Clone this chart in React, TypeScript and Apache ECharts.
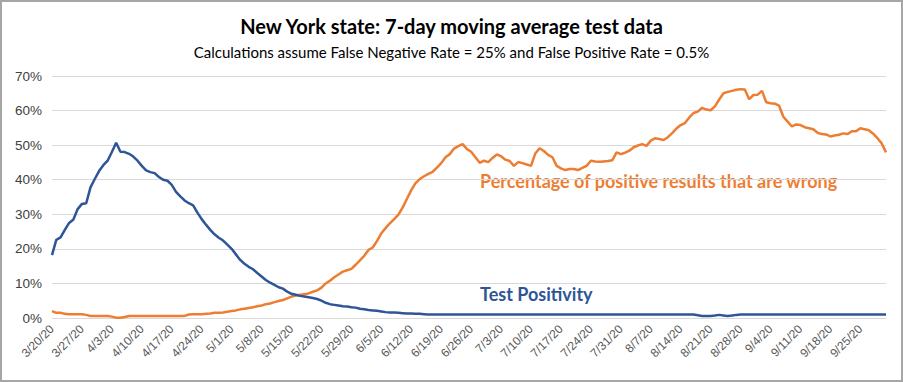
import React, { useEffect, useRef } from "react";
import * as echarts from "echarts";

const START_DATE = "2020-03-20";
const DAY_COUNT = 196;

const testPositivity = [
  18.2, 22.6, 23.3, 25.5, 27.5, 28.5, 31.5, 33.0, 33.2, 37.8,
  40.2, 42.5, 44.2, 45.5, 48.0, 50.7, 48.1, 48.0, 47.5, 46.7,
  45.5, 44.0, 42.7, 42.2, 41.9, 40.8, 40.0, 39.7, 38.5, 36.5,
  35.2, 34.0, 33.2, 32.6, 30.5, 28.6, 27.0, 25.5, 24.2, 23.2,
  22.4, 21.2, 20.0, 18.4, 16.8, 15.7, 14.8, 14.1, 13.0, 12.0,
  11.0, 10.2, 9.6, 8.9, 8.5, 7.6, 7.0, 6.7, 6.4, 6.2,
  6.0, 5.8, 5.5, 5.0, 4.4, 4.0, 3.8, 3.6, 3.4, 3.3,
  3.1, 3.0, 2.7, 2.5, 2.3, 2.2, 2.1, 1.9, 1.7, 1.6,
  1.6, 1.5, 1.4, 1.3, 1.3, 1.2, 1.2, 1.1, 1.0, 1.0,
  1.0, 1.0, 1.0, 1.0, 1.0, 1.0, 1.0, 1.0, 1.0, 1.0,
  1.0, 1.0, 1.0, 1.0, 1.0, 1.0, 1.0, 1.0, 1.0, 1.0,
  1.0, 1.0, 1.0, 1.0, 1.0, 1.0, 1.0, 1.0, 1.0, 1.0,
  1.0, 1.0, 1.0, 1.0, 1.0, 1.0, 1.0, 1.0, 1.0, 1.0,
  1.0, 1.0, 1.0, 1.0, 1.0, 1.0, 1.0, 1.0, 1.0, 1.0,
  1.0, 1.0, 1.0, 1.0, 1.0, 1.0, 1.0, 1.0, 1.0, 1.0,
  1.0, 0.8, 0.6, 0.6, 0.6, 0.7, 0.9, 0.7, 0.6, 0.7,
  0.9, 1.0, 1.0, 1.0, 1.0, 1.0, 1.0, 1.0, 1.0, 1.0,
  1.0, 1.0, 1.0, 1.0, 1.0, 1.0, 1.0, 1.0, 1.0, 1.0,
  1.0, 1.0, 1.0, 1.0, 1.0, 1.0, 1.0, 1.0, 1.0, 1.0,
  1.0, 1.0, 1.0, 1.0, 1.0, 1.0,
];

const wrongPositives = [
  2.0, 1.5, 1.5, 1.2, 1.1, 1.1, 1.1, 1.1, 0.9, 0.6,
  0.6, 0.6, 0.6, 0.6, 0.4, 0.1, 0.1, 0.3, 0.6, 0.6,
  0.6, 0.6, 0.6, 0.6, 0.6, 0.6, 0.6, 0.6, 0.6, 0.6,
  0.6, 0.6, 1.0, 1.1, 1.1, 1.1, 1.2, 1.3, 1.5, 1.5,
  1.6, 1.8, 2.0, 2.2, 2.5, 2.7, 2.9, 3.1, 3.4, 3.6,
  4.0, 4.2, 4.6, 4.9, 5.2, 5.7, 6.2, 6.5, 6.7, 6.9,
  7.1, 7.6, 8.0, 8.8, 10.0, 10.8, 11.8, 12.6, 13.4, 13.8,
  14.2, 15.4, 16.7, 18.0, 19.7, 20.4, 22.3, 24.5, 26.0, 27.4,
  28.6, 29.9, 32.0, 34.5, 37.0, 39.0, 40.2, 41.0, 41.7, 42.3,
  43.5, 44.8, 46.5, 47.4, 49.0, 49.7, 50.3, 48.9, 48.1, 46.5,
  44.9, 45.5, 45.1, 46.3, 47.3, 46.8, 45.8, 45.4, 44.0, 45.1,
  44.8, 44.4, 44.0, 47.6, 49.1, 48.3, 47.2, 46.5, 44.0, 43.3,
  42.8, 43.1, 43.1, 42.8, 43.4, 44.0, 45.5, 45.3, 45.2, 45.3,
  45.4, 45.6, 47.9, 47.4, 47.8, 48.4, 49.4, 49.9, 50.3, 49.8,
  51.3, 52.0, 51.8, 51.5, 52.3, 53.5, 54.8, 55.8, 56.4, 58.0,
  59.3, 59.7, 60.8, 60.3, 60.1, 61.2, 63.2, 65.0, 65.4, 65.7,
  66.0, 66.2, 66.1, 63.3, 64.5, 64.6, 65.7, 62.4, 62.1, 62.0,
  61.4, 58.2, 56.8, 55.4, 56.0, 55.8, 55.2, 54.9, 54.6, 53.6,
  53.2, 53.1, 52.5, 52.8, 53.0, 53.4, 53.2, 54.0, 54.0, 54.9,
  54.6, 54.3, 53.3, 52.0, 50.5, 47.9,
];

const yTicks = [0, 10, 20, 30, 40, 50, 60, 70];

function buildDates(): string[] {
  const out: string[] = [];
  const d0 = new Date(START_DATE + "T12:00:00");
  for (let i = 0; i < DAY_COUNT; i++) {
    const d = new Date(d0.getTime() + i * 86400000);
    out.push(`${d.getMonth() + 1}/${d.getDate()}/${String(d.getFullYear()).slice(2)}`);
  }
  return out;
}

export default function App() {
  const ref = useRef<HTMLDivElement>(null);
  useEffect(() => {
    if (!ref.current) return;
    const chart = echarts.init(ref.current, undefined, { renderer: "svg" });
    const dates = buildDates();
    chart.setOption({
      animation: false,
      backgroundColor: "#ffffff",
      title: [
        {
          text: "New York state: 7-day moving average test data",
          left: "center",
          top: 11,
          textStyle: { fontFamily: "Lato", fontWeight: "bold", fontSize: 20, color: "#000000" },
        },
        {
          text: "Calculations assume False Negative Rate = 25% and False Positive Rate = 0.5%",
          left: "center",
          top: 39,
          textStyle: { fontFamily: "Lato", fontWeight: "normal", fontSize: 15, color: "#000000" },
        },
      ],
      grid: { left: 52, right: 17, top: 76, bottom: 64, containLabel: false },
      xAxis: {
        type: "category",
        data: dates,
        boundaryGap: false,
        axisLine: { show: false },
        axisTick: { show: false },
        splitLine: { show: false },
        axisLabel: {
          interval: 6,
          rotate: 45,
          margin: 9,
          fontFamily: "Liberation Sans",
          fontSize: 12,
          color: "#595959",
        },
      },
      yAxis: {
        type: "value",
        min: yTicks[0],
        max: yTicks[yTicks.length - 1],
        interval: 10,
        axisLine: { show: false },
        axisTick: { show: false },
        splitLine: { lineStyle: { color: "#d9d9d9", width: 1 } },
        axisLabel: {
          formatter: "{value}%",
          margin: 10,
          fontFamily: "Liberation Sans",
          fontSize: 13.5,
          color: "#404040",
        },
      },
      series: [
        {
          name: "Test Positivity",
          type: "line",
          data: testPositivity,
          showSymbol: false,
          lineStyle: { color: "#2F5597", width: 2.5 },
          itemStyle: { color: "#2F5597" },
          z: 3,
        },
        {
          name: "Percentage of positive results that are wrong",
          type: "line",
          data: wrongPositives,
          showSymbol: false,
          lineStyle: { color: "#ED7D31", width: 2.5 },
          itemStyle: { color: "#ED7D31" },
          z: 2,
        },
      ],
      graphic: [
        {
          type: "text",
          left: 480,
          top: 172,
          style: {
            text: "Percentage of positive results that are wrong",
            fill: "#ED7D31",
            font: "bold 18px Lato",
          },
        },
        {
          type: "text",
          left: 480,
          top: 285,
          style: {
            text: "Test Positivity",
            fill: "#2F5597",
            font: "bold 18px Lato",
          },
        },
      ],
    });
    return () => chart.dispose();
  }, []);
  return (
    <div
      style={{
        position: "fixed",
        left: 0,
        top: 0,
        width: 903,
        height: 382,
        boxSizing: "border-box",
        border: "2px solid #a6a6a6",
        background: "#ffffff",
        overflow: "hidden",
      }}
    >
      <div ref={ref} style={{ position: "absolute", left: -2, top: -2, width: 903, height: 382 }} />
    </div>
  );
}
